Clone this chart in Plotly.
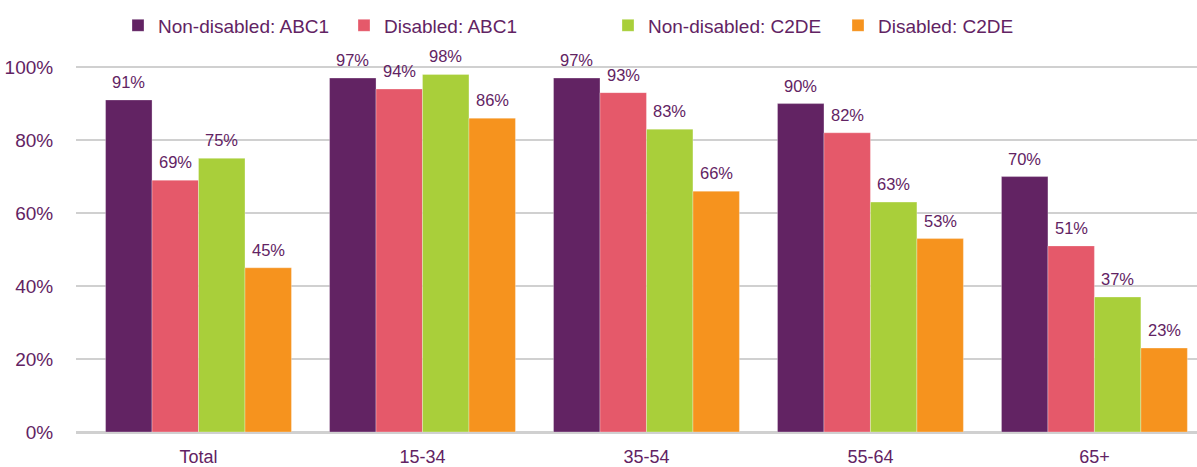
import plotly.graph_objects as go

categories = ["Total", "15-34", "35-54", "55-64", "65+"]
series_names = ["Non-disabled: ABC1", "Disabled: ABC1", "Non-disabled: C2DE", "Disabled: C2DE"]
nd_abc1 = [91, 97, 97, 90, 70]
d_abc1 = [69, 94, 93, 82, 51]
nd_c2de = [75, 98, 83, 63, 37]
d_c2de = [45, 86, 66, 53, 23]
y_ticks = [0, 20, 40, 60, 80, 100]
y_tick_labels = ["0%", "20%", "40%", "60%", "80%", "100%"]

colors = ["#622363", "#E5596A", "#A9CF3A", "#F6931E"]
text_color = "#622363"
font_family = "Liberation Sans, Arial, sans-serif"
W, H = 1197, 467
bargap = 0.17
legend_text_px = [158, 384, 648, 878]  # where each legend label starts

all_series = [nd_abc1, d_abc1, nd_c2de, d_c2de]
n = len(all_series)
fig = go.Figure()
annotations = []
for j, (name, vals, col) in enumerate(zip(series_names, all_series, colors)):
    lg = "legend" if j == 0 else f"legend{j+1}"
    fig.add_trace(go.Bar(
        name=name, x=list(range(len(categories))), y=vals,
        marker=dict(color=col, line=dict(color="rgba(255,255,255,0.6)", width=0.5)),
        legend=lg,
    ))
    w = (1 - bargap) / n
    for i, v in enumerate(vals):
        annotations.append(dict(
            x=i + (j - (n - 1) / 2) * w, y=v, xref="x", yref="y",
            text=f"{v}%", showarrow=False, yanchor="bottom", yshift=7,
            font=dict(size=16.5, color=text_color, family=font_family),
        ))

layout_legends = {}
for j in range(n):
    key = "legend" if j == 0 else f"legend{j+1}"
    layout_legends[key] = dict(
        orientation="h", xref="container", yref="container",
        x=(legend_text_px[j] - 40) / W, xanchor="left",
        y=1 - 25.5 / H, yanchor="middle",
        font=dict(size=19, color=text_color, family=font_family),
        itemwidth=30, bgcolor="rgba(0,0,0,0)",
    )

fig.update_layout(
    width=W, height=H,
    margin=dict(l=76, r=0, t=66, b=35),
    paper_bgcolor="white", plot_bgcolor="white",
    barmode="group", bargap=bargap, bargroupgap=0,
    font=dict(family=font_family, color=text_color, size=18),
    annotations=annotations,
    showlegend=True,
    **layout_legends,
)
fig.update_xaxes(range=[-0.547, 4.458], tickvals=list(range(len(categories))), ticktext=categories,
                 showgrid=False, showline=False, zeroline=False,
                 ticks="outside", ticklen=8, tickcolor="rgba(0,0,0,0)",
                 tickfont=dict(size=18, color=text_color))
fig.update_yaxes(range=[0, 100.3], tickvals=y_ticks, ticktext=y_tick_labels,
                 showgrid=True, gridcolor="#D0D0D0", gridwidth=2,
                 zeroline=True, zerolinecolor="#D0D0D0", zerolinewidth=2.5,
                 showline=False, ticks="outside", ticklen=18, tickcolor="rgba(0,0,0,0)",
                 tickfont=dict(size=19, color=text_color))

fig.write_html("out.html")
